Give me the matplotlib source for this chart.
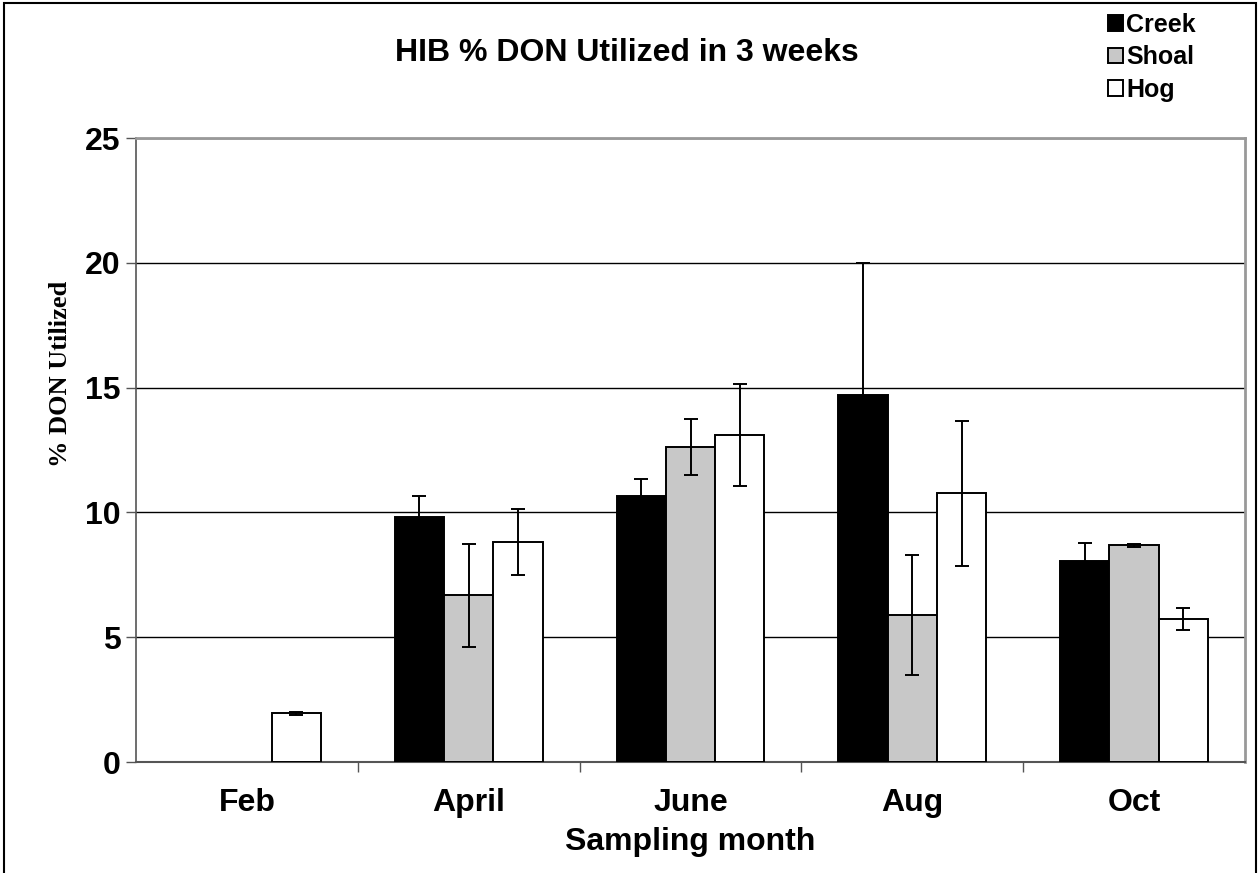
import matplotlib
matplotlib.use("Agg")
import matplotlib.pyplot as plt
import numpy as np
from matplotlib.patches import Rectangle

months = ["Feb", "April", "June", "Aug", "Oct"]
series = ["Creek", "Shoal", "Hog"]
creek = [0.0, 9.8, 10.65, 14.7, 8.05]
shoal = [0.0, 6.68, 12.62, 5.88, 8.68]
hog = [1.95, 8.83, 13.1, 10.77, 5.72]
creek_err = [0.0, 0.85, 0.7, 5.3, 0.72]
shoal_err = [0.0, 2.07, 1.14, 2.4, 0.05]
hog_err = [0.05, 1.32, 2.05, 2.9, 0.45]
yticks = [0, 5, 10, 15, 20, 25]

colors = ["#000000", "#c8c8c8", "#ffffff"]
sans = ["Liberation Sans", "DejaVu Sans"]
serif = ["Liberation Serif", "DejaVu Serif"]

fig = plt.figure(figsize=(12.6, 8.73), dpi=100)
ax = fig.add_axes([136/1260, 1-762/873, (1245-136)/1260, (762-138)/873])

x = np.arange(len(months))
w = 0.222
vals = [creek, shoal, hog]
errs = [creek_err, shoal_err, hog_err]
handles = []
for i, (v, e, c, name) in enumerate(zip(vals, errs, colors, series)):
    pos = x + (i - 1) * w
    mask = np.array(v) > 0
    b = ax.bar(pos[mask], np.array(v)[mask], width=w, color=c, edgecolor="black",
               linewidth=1.4, zorder=3, label=name)
    ax.errorbar(pos[mask], np.array(v)[mask], yerr=np.array(e)[mask], fmt="none",
                ecolor="black", elinewidth=1.4, capsize=5, capthick=1.4, zorder=4)
    handles.append(b)

ax.set_xlim(-0.5, len(months) - 0.5)
ax.set_ylim(0, 25)
ax.set_yticks(yticks)
ax.set_yticklabels([str(t) for t in yticks], fontfamily=sans, fontweight="bold", fontsize=23)
ax.set_xticks(x)
ax.set_xticklabels(months, fontfamily=sans, fontweight="bold", fontsize=23)
ax.tick_params(axis="x", which="major", length=0, pad=19)
ax.set_xticks(np.arange(0.5, len(months) - 0.5, 1), minor=True)
ax.tick_params(axis="x", which="minor", length=7, width=1, color="#555555", direction="out")
ax.tick_params(axis="y", length=7, width=1, color="#555555", direction="out", pad=4)

ax.yaxis.grid(True, color="black", linewidth=1)
ax.set_axisbelow(True)
for s in ["top", "right"]:
    ax.spines[s].set_color("#999999")
    ax.spines[s].set_linewidth(2)
ax.spines["left"].set_color("#555555")
ax.spines["left"].set_linewidth(1.2)
ax.spines["bottom"].set_color("#555555")
ax.spines["bottom"].set_linewidth(1.5)

ax.set_xlabel("Sampling month", fontfamily=sans, fontweight="bold", fontsize=23, labelpad=6)
ax.set_ylabel("% DON Utilized", fontfamily=serif, fontweight="bold", fontsize=19)
ax.yaxis.set_label_coords((72-136)/1109, (762-374)/624)

fig.text(627/1260, 1-53/873, "HIB % DON Utilized in 3 weeks", ha="center", va="center",
         fontfamily=sans, fontweight="bold", fontsize=23)

leg = fig.legend(handles=handles, labels=series, loc="upper left",
                 bbox_to_anchor=(1108/1260, 1-13/873), frameon=False,
                 prop={"family": sans, "weight": "bold", "size": 18},
                 handlelength=0.6, handleheight=0.6, handletextpad=0.12,
                 labelspacing=0.33, borderaxespad=0, borderpad=0)

fig.patches.append(Rectangle((4/1260, -0.05), 1-8/1260, 1.05 - 3/873, transform=fig.transFigure,
                             fill=False, edgecolor="black", linewidth=1.5, clip_on=False))

fig.savefig("out.png", dpi=100)
